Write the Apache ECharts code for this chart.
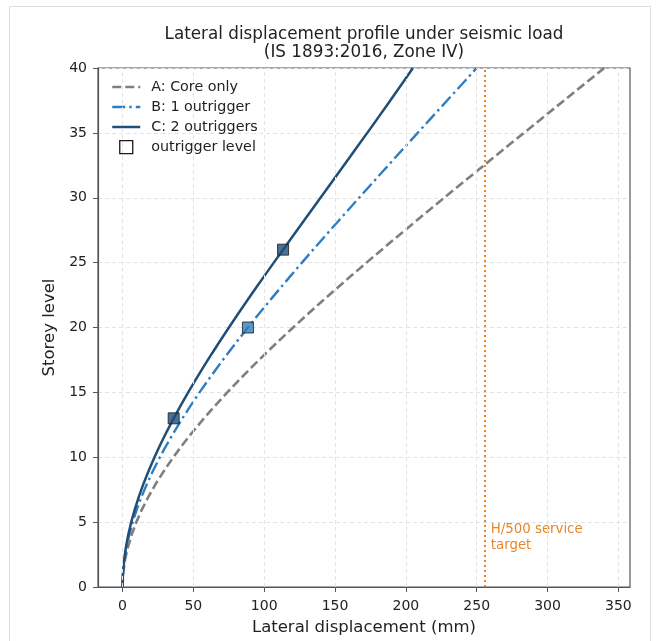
<!DOCTYPE html>
<html>
<head>
<meta charset="utf-8">
<script src="https://cdn.jsdelivr.net/npm/echarts@6/dist/echarts.min.js"></script>
<style>
  html, body { margin: 0; padding: 0; background: #fff; }
  #main { width: 660px; height: 641px; }
</style>
</head>
<body>
<div id="main"></div>
<script>
// storey levels 0..40
const storeys = [0,1,2,3,4,5,6,7,8,9,10,11,12,13,14,15,16,17,18,19,20,
  21,22,23,24,25,26,27,28,29,30,31,32,33,34,35,36,37,38,39,40];
// lateral displacement (mm)
const coreOnly = [0,0.42,1.64,3.64,6.36,9.77,13.83,18.50,23.75,29.55,35.86,42.65,49.88,57.53,65.56,73.96,
  82.69,91.72,101.04,110.61,120.42,130.44,140.65,151.03,161.57,172.24,183.04,193.93,204.92,215.98,227.11,
  238.29,249.52,260.77,272.06,283.36,294.68,306.00,317.33,328.67,340];
const oneOutrigger = [0,0.31,1.21,2.67,4.68,7.18,10.17,13.60,17.47,21.73,26.37,31.36,36.68,42.30,48.21,54.38,
  60.80,67.44,74.29,81.33,88.54,95.91,103.42,111.05,118.80,126.65,134.59,142.60,150.68,158.81,166.99,
  175.21,183.47,191.75,200.04,208.35,216.68,225.00,233.33,241.67,250];
const twoOutriggers = [0,0.26,1.04,2.30,4.01,6.16,8.72,11.66,14.96,18.60,22.56,26.81,31.33,36.11,41.12,46.35,
  51.78,57.38,63.15,69.06,75.11,81.26,87.52,93.87,100.30,106.78,113.32,119.89,126.49,133.12,139.75,
  146.38,153.00,159.61,166.20,172.76,179.29,185.79,192.23,198.64,205];
// outrigger storeys
const outriggerB = [20];
const outriggerC = [13, 26];
const serviceLimit = 256; // H/500, mm
const xTicks = [0, 50, 100, 150, 200, 250, 300, 350];

const FONT = "DejaVu Sans";
const SPINE = "#555";
const colA = "#7f7f7f", colB = "#2f7ec1", colC = "#1f4e79", colLimit = "#e8862a";

function pairs(xs) {
  return xs.map(function (x, i) { return [x, storeys[i]]; });
}

let chart = echarts.init(document.getElementById("main"), null, { renderer: "canvas" });

let markerData = [];
outriggerB.forEach(function (s) {
  markerData.push({ value: [oneOutrigger[storeys.indexOf(s)], s], itemStyle: { color: colB } });
});
outriggerC.forEach(function (s) {
  markerData.push({ value: [twoOutriggers[storeys.indexOf(s)], s], itemStyle: { color: colC } });
});

let option = {
  animation: false,
  textStyle: { fontFamily: FONT },
  title: {
    text: "Lateral displacement profile under seismic load\n(IS 1893:2016, Zone IV)",
    left: 359,
    top: 21,
    textAlign: "center",
    textStyle: { fontFamily: FONT, fontSize: 16.8, fontWeight: "normal", color: "#222", lineHeight: 18 },
  },
  grid: {
    left: 98, right: 30, top: 68, bottom: 54,
    show: true, borderColor: SPINE, borderWidth: 1.2, backgroundColor: "transparent",
  },
  legend: {
    orient: "vertical",
    left: 111,
    top: 80,
    padding: 0,
    itemWidth: 28,
    itemHeight: 13,
    itemGap: 6,
    itemStyle: { opacity: 0 },
    lineStyle: { width: 2.5 },
    textStyle: { fontFamily: FONT, fontSize: 14.3, color: "#222", padding: [0, 0, 0, 6] },
    data: [
      { name: "A: Core only" },
      { name: "B: 1 outrigger" },
      { name: "C: 2 outriggers" },
      {
        name: "outrigger level",
        icon: "path://M0,0L10,0L10,10L0,10Z",
        itemStyle: { opacity: 1, color: "#fff", borderColor: "#1a1a1a", borderWidth: 1.3 },
      },
    ],
  },
  xAxis: {
    type: "value",
    min: -17.3,
    max: 358.2,
    name: "Lateral displacement (mm)",
    nameLocation: "middle",
    nameGap: 32,
    nameTextStyle: { fontFamily: FONT, fontSize: 16.5, color: "#222" },
    axisLine: { show: true, onZero: false, lineStyle: { color: SPINE, width: 1.2 } },
    axisTick: { show: true, length: 5, customValues: xTicks, lineStyle: { color: SPINE } },
    axisLabel: { customValues: xTicks, margin: 12, fontSize: 14, color: "#222", fontFamily: FONT },
    splitLine: { show: false },
  },
  yAxis: {
    type: "value",
    min: 0,
    max: 40,
    interval: 5,
    name: "Storey level",
    nameLocation: "middle",
    nameGap: 40,
    nameTextStyle: { fontFamily: FONT, fontSize: 16.5, color: "#222" },
    axisLine: { show: true, onZero: false, lineStyle: { color: SPINE, width: 1.2 } },
    axisTick: { show: true, length: 5, lineStyle: { color: SPINE } },
    axisLabel: { margin: 11, fontSize: 14, color: "#222", fontFamily: FONT },
    splitLine: { show: true, lineStyle: { color: "#e3e3e3", type: [4, 3], width: 1 } },
  },
  series: [
    {
      name: "gridX",
      type: "line",
      data: [],
      silent: true,
      markLine: {
        silent: true,
        symbol: "none",
        label: { show: false },
        lineStyle: { color: "#e3e3e3", type: [4, 3], width: 1 },
        data: xTicks.map(function (v) { return { xAxis: v }; }),
      },
      z: 1,
    },
    {
      name: "A: Core only",
      type: "line",
      data: pairs(coreOnly),
      symbol: "none",
      lineStyle: { color: colA, width: 2.6, type: [9, 4] },
      itemStyle: { color: colA },
      z: 3,
    },
    {
      name: "B: 1 outrigger",
      type: "line",
      data: pairs(oneOutrigger),
      symbol: "none",
      lineStyle: { color: colB, width: 2.4, type: [13, 4, 2.5, 4] },
      itemStyle: { color: colB },
      z: 3,
    },
    {
      name: "C: 2 outriggers",
      type: "line",
      data: pairs(twoOutriggers),
      symbol: "none",
      lineStyle: { color: colC, width: 2.5 },
      itemStyle: { color: colC },
      markLine: {
        silent: true,
        symbol: "none",
        label: { show: false },
        lineStyle: { color: colLimit, type: [2, 3], width: 2 },
        data: [{ xAxis: serviceLimit }],
      },
      z: 3,
    },
    {
      name: "outrigger level",
      type: "scatter",
      data: markerData,
      symbol: "rect",
      symbolSize: 11,
      itemStyle: { color: "#fff", borderColor: "#1a1a1a", borderWidth: 1 },
      z: 5,
    },
  ],
};
chart.setOption(option);

// annotation beside the service limit line
let p = chart.convertToPixel({ gridIndex: 0 }, [serviceLimit + 4, 3.8]);
chart.setOption({
  graphic: [
    {
      type: "rect",
      shape: { x: 9.5, y: 6.5, width: 641, height: 660 },
      style: { fill: "none", stroke: "#dddddd", lineWidth: 1 },
      silent: true,
    },
    {
      type: "text",
      x: p[0],
      y: p[1],
      style: {
        text: "H/500 service\ntarget",
        fill: colLimit,
        font: "13.3px " + FONT,
        lineHeight: 15.5,
        textAlign: "left",
        textVerticalAlign: "middle",
      },
      silent: true,
    },
  ],
});
</script>
</body>
</html>
